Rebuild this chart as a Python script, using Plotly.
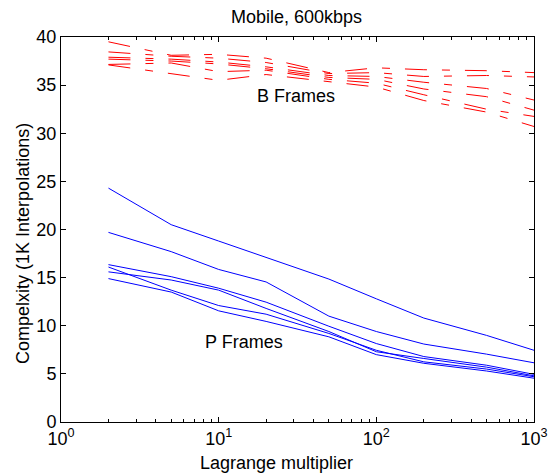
import plotly.graph_objects as go

# Lagrange multiplier values
lam = [2, 5, 10, 20, 50, 100, 200, 500, 1000]

# P frames complexity (1K interpolations)
p1 = [24.3, 20.5, 18.8, 17.1, 14.85, 12.8, 10.8, 9.0, 7.45]
p2 = [19.7, 17.7, 15.85, 14.55, 11.0, 9.4, 8.1, 7.05, 6.15]
p3 = [16.35, 15.1, 13.9, 12.45, 9.95, 8.15, 6.8, 5.9, 4.95]
p4 = [15.6, 14.75, 13.7, 11.8, 9.4, 7.3, 6.6, 5.7, 4.8]
p5 = [16.1, 13.7, 12.1, 11.2, 9.2, 7.45, 6.25, 5.5, 4.7]
p6 = [14.9, 13.5, 11.55, 10.45, 8.85, 7.0, 6.1, 5.3, 4.55]

# B frames complexity (1K interpolations)
b1 = [39.5, 38.1, 38.2, 37.8, 36.3, 36.8, 36.6, 36.5, 36.3]
b2 = [38.45, 38.0, 37.8, 37.35, 36.2, 36.3, 35.9, 36.0, 35.85]
b3 = [37.9, 37.7, 37.4, 36.9, 36.0, 35.9, 35.3, 34.65, 33.45]
b4 = [37.7, 37.5, 37.2, 36.7, 35.8, 35.6, 34.6, 33.8, 32.4]
b5 = [37.15, 37.3, 36.4, 36.55, 35.6, 35.2, 34.0, 32.5, 31.75]
b6 = [37.1, 36.2, 35.5, 36.1, 35.4, 34.8, 33.4, 32.2, 30.7]

x_tickvals = [1, 10, 100, 1000]
x_ticktext = ["10<sup>0</sup>", "10<sup>1</sup>", "10<sup>2</sup>", "10<sup>3</sup>"]
minor_vals = [m * d for d in (1, 10, 100) for m in range(2, 10)]

FONT = "Liberation Sans, Arial, sans-serif"
FS = 18

fig = go.Figure()
for s in [b1, b2, b3, b4, b5, b6]:
    fig.add_trace(go.Scatter(x=lam, y=s, mode="lines",
                             line=dict(color="#ff0000", width=1, dash="22px,15px,8px,15px"),
                             showlegend=False, hoverinfo="skip"))
for s in [p1, p2, p3, p4, p5, p6]:
    fig.add_trace(go.Scatter(x=lam, y=s, mode="lines",
                             line=dict(color="#0000ff", width=1),
                             showlegend=False, hoverinfo="skip"))

fig.update_layout(
    width=560, height=475,
    margin=dict(l=61, r=14, t=37, b=53),
    paper_bgcolor="white", plot_bgcolor="white",
    font=dict(family=FONT, size=FS, color="black"),
    showlegend=False,
    xaxis=dict(type="log", range=[0, 3], tickvals=x_tickvals, ticktext=x_ticktext,
               ticks="inside", ticklen=5, tickcolor="black", mirror="allticks",
               showline=True, linecolor="black", linewidth=1, showgrid=False, zeroline=False,
               minor=dict(tickvals=minor_vals, ticks="inside", ticklen=3, tickcolor="black", showgrid=False),
               tickfont=dict(size=FS)),
    yaxis=dict(range=[0, 40], tickvals=[0, 5, 10, 15, 20, 25, 30, 35, 40],
               ticks="inside", ticklen=5, tickcolor="black", mirror="allticks",
               showline=True, linecolor="black", linewidth=1, showgrid=False, zeroline=False,
               tickfont=dict(size=FS)),
    annotations=[
        dict(text="Mobile, 600kbps", xref="paper", yref="paper", x=0.498, y=1.052,
             xanchor="center", yanchor="middle", showarrow=False, font=dict(size=FS)),
        dict(text="Lagrange multiplier", xref="paper", yref="paper", x=0.456, y=-0.106,
             xanchor="center", yanchor="middle", showarrow=False, font=dict(size=FS)),
        dict(text="Compelxity (1K Interpolations)", xref="paper", yref="paper", x=-0.0804, y=0.465,
             xanchor="center", yanchor="middle", textangle=-90, showarrow=False, font=dict(size=FS)),
        dict(text="B Frames", x=1.4886, y=33.9, xref="x", yref="y",
             xanchor="center", yanchor="middle", showarrow=False, font=dict(size=FS)),
        dict(text="P Frames", x=1.1627, y=8.3, xref="x", yref="y",
             xanchor="center", yanchor="middle", showarrow=False, font=dict(size=FS)),
    ],
)

fig.write_html(
    "out.html",
    config={"displayModeBar": False, "responsive": False},
    post_script=(
        "document.body.style.margin='0';document.body.style.padding='0';"
        "document.body.style.overflow='hidden';"
        "var d=document.getElementById('{plot_id}');"
        "d.style.position='absolute';d.style.left='0px';d.style.top='0px';"
    ),
)
